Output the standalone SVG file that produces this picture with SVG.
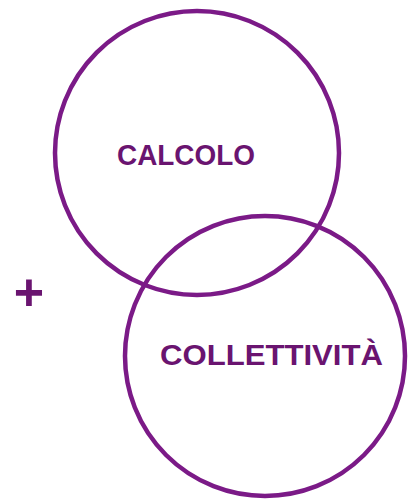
<svg xmlns="http://www.w3.org/2000/svg" width="413" height="502" viewBox="0 0 413 502">
<style>
.ring{fill:none;stroke:#7b1a87;stroke-width:4.5}
.lbl{font-family:"Liberation Sans",Arial,sans-serif;font-weight:bold;font-size:29px;fill:#6a1470}
</style>
<rect width="413" height="502" fill="#fff"/>
<g id="calcolo">
<circle class="ring" cx="197" cy="153" r="142"/>
<text class="lbl" x="117" y="165" textLength="138" lengthAdjust="spacingAndGlyphs">CALCOLO</text>
</g>
<g id="collettivita">
<circle class="ring" cx="265" cy="356" r="140"/>
<text class="lbl" x="160" y="365" textLength="223" lengthAdjust="spacingAndGlyphs">COLLETTIVITÀ</text>
</g>
<g id="plus">
<text x="29" y="310" text-anchor="middle" style="font-family:'Liberation Sans',Arial,sans-serif;font-weight:bold;font-size:52px;fill:#6a1470">+</text>
</g>
<g id="connectors"/>
</svg>
